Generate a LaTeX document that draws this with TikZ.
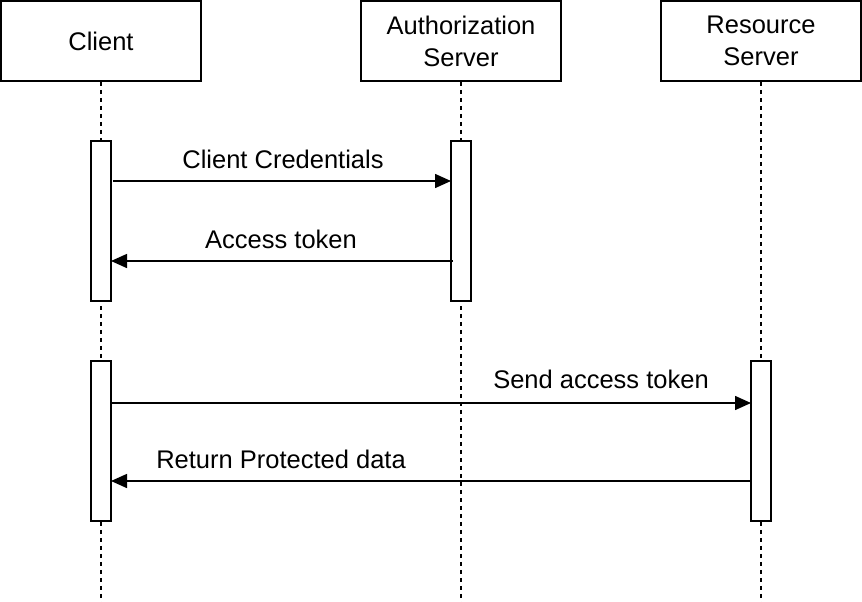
\documentclass[tikz,border=0pt]{standalone}
\usepackage{fontspec}
\setmainfont{Liberation Sans}
\usetikzlibrary{arrows.meta}
\usetikzlibrary{positioning}
\tikzset{
  actor/.style = {rectangle, draw, fill=white, minimum width=200pt, minimum height=80pt, align=center, font=\fontsize{25.5}{32}\selectfont},
  act/.style = {rectangle, draw, fill=white, minimum width=20pt, minimum height=160pt, inner sep=0pt},
  life/.style = {draw, dashed, dash pattern=on 4pt off 4pt},
  msg/.style = {draw, -{Triangle[length=16pt, width=14pt]}},
  lbl/.style = {font=\fontsize{25.5}{32}\selectfont, inner sep=0pt}
}
\begin{document}
\begin{tikzpicture}[x=1pt, y=-1pt, line width=1.5pt]
  \useasboundingbox (0,0) rectangle (862,602);
  % Place actors
  \node [actor] (client) at (101,41) {Client};
  \node [actor] (auth) at (461,41) {Authorization\\Server};
  \node [actor] (res) at (761,41) {Resource\\Server};
  \coordinate (clientend) at (101,602);
  \coordinate (authend) at (461,602);
  \coordinate (resend) at (761,602);
  % Lifelines
  \path [life] (client) -- (clientend);
  \path [life] (auth) -- (authend);
  \path [life] (res) -- (resend);
  % Activations
  \node [act] (c1) at (101,221) {};
  \node [act] (a1) at (461,221) {};
  \node [act] (c2) at (101,441) {};
  \node [act] (r1) at (761,441) {};
  % Message end points
  \coordinate (m1s) at (113,181);
  \coordinate (m1e) at (451,181);
  \coordinate (m2s) at (453,261);
  \coordinate (m2e) at (111,261);
  \coordinate (m3s) at (111,403);
  \coordinate (m3e) at (751,403);
  \coordinate (m4s) at (751,481);
  \coordinate (m4e) at (111,481);
  % Draw messages
  \path [msg] (m1s) -- (m1e);
  \path [msg] (m2s) -- (m2e);
  \path [msg] (m3s) -- (m3e);
  \path [msg] (m4s) -- (m4e);
  % Labels
  \node [lbl] (l1) at (283,159) {Client Credentials};
  \node [lbl] (l2) at (281,239) {Access token};
  \node [lbl] (l3) at (601,379) {Send access token};
  \node [lbl] (l4) at (281,459) {Return Protected data};
\end{tikzpicture}
\end{document}
